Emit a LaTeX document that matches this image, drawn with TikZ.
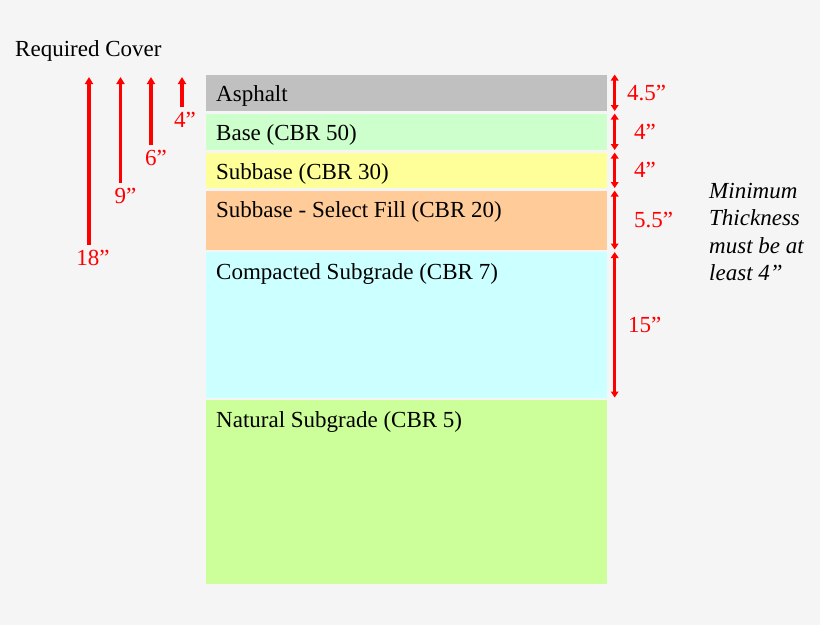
\documentclass[tikz,border=0pt]{standalone}
\usepackage{fontspec}
\setmainfont{Liberation Serif}
\usetikzlibrary{positioning,arrows.meta}
\definecolor{asphaltgray}{HTML}{C0C0C0}
\definecolor{basegreen}{HTML}{CCFFCC}
\definecolor{subbaseyellow}{HTML}{FFFF99}
\definecolor{fillorange}{HTML}{FFCC99}
\definecolor{compactedcyan}{HTML}{CCFFFF}
\definecolor{naturalgreen}{HTML}{CCFF99}
\definecolor{paper}{HTML}{F5F5F5}

\begin{document}
\begin{tikzpicture}[x=1pt,y=1pt,
    layer/.style={anchor=north west,minimum width=401pt,inner sep=0,outer sep=0},
    layertext/.style={anchor=base west,inner sep=0,font=\fontsize{23}{27}\selectfont},
    redtext/.style={text=red,inner sep=0,font=\fontsize{23}{27}\selectfont},
    cover/.style={red,line width=3.3pt,-{Triangle[length=7pt,width=8pt]}},
    dim/.style={red,line width=2.7pt,{Triangle[length=6pt,width=7.5pt]}-{Triangle[length=6pt,width=7.5pt]}}]
        \fill[paper] (0,0) rectangle (820,-625);
        \useasboundingbox (0,0) rectangle (820,-625);
        % layers
        \node[layer,fill=asphaltgray,minimum height=36.5pt] (asphalt) at (205.5,-74.5) {};
        \node[layer,fill=basegreen,minimum height=36.5pt,below=2.5pt of asphalt] (base) {};
        \node[layer,fill=subbaseyellow,minimum height=35.5pt,below=2.5pt of base] (subbase) {};
        \node[layer,fill=fillorange,minimum height=59pt,below=2.5pt of subbase] (fill) {};
        \node[layer,fill=compactedcyan,minimum height=145.5pt,below=2.5pt of fill] (compacted) {};
        \node[layer,fill=naturalgreen,minimum height=184pt,below=2.5pt of compacted] (natural) {};
        \node[layertext] (tasphalt) at ([shift={(10.5,-27)}]asphalt.north west) {Asphalt};
        \node[layertext] (tbase) at ([shift={(10.5,-27)}]base.north west) {Base (CBR 50)};
        \node[layertext] (tsubbase) at ([shift={(10.5,-27)}]subbase.north west) {Subbase (CBR 30)};
        \node[layertext] (tfill) at ([shift={(10.5,-27)}]fill.north west) {Subbase - Select Fill (CBR 20)};
        \node[layertext] (tcompacted) at ([shift={(10.5,-27)}]compacted.north west) {Compacted Subgrade (CBR 7)};
        \node[layertext] (tnatural) at ([shift={(10.5,-27)}]natural.north west) {Natural Subgrade (CBR 5)};
        % required cover
        \node[layertext] (title) at (15,-56.7) {Required Cover};
        \coordinate (c18) at (89,-245);
        \coordinate (c18top) at (89,-77);
        \coordinate (c9) at (120.5,-183);
        \coordinate (c9top) at (120.5,-77);
        \coordinate (c6) at (151,-145);
        \coordinate (c6top) at (151,-77);
        \coordinate (c4) at (182,-107);
        \coordinate (c4top) at (182,-77);
        \draw[cover] (c18) -- (c18top);
        \draw[cover] (c9) -- (c9top);
        \draw[cover] (c6) -- (c6top);
        \draw[cover] (c4) -- (c4top);
        \node[redtext,below=5pt of c18,xshift=4pt] (l18) {18”};
        \node[redtext,below=5pt of c9,xshift=5pt] (l9) {9”};
        \node[redtext,below=5pt of c6,xshift=5pt] (l6) {6”};
        \node[redtext,below=5pt of c4,xshift=3pt] (l4) {4”};
        % thicknesses
        \draw[dim] ([xshift=8.2pt]asphalt.north east) -- ([xshift=8.2pt]asphalt.south east)
            node[redtext,midway,right=11pt] (d1) {4.5”};
        \draw[dim] ([xshift=8.2pt]base.north east) -- ([xshift=8.2pt]base.south east)
            node[redtext,midway,right=18pt] (d2) {4”};
        \draw[dim] ([xshift=8.2pt]subbase.north east) -- ([xshift=8.2pt]subbase.south east)
            node[redtext,midway,right=18pt] (d3) {4”};
        \draw[dim] ([xshift=8.2pt]fill.north east) -- ([xshift=8.2pt]fill.south east)
            node[redtext,midway,right=18pt] (d4) {5.5”};
        \draw[dim] ([xshift=8.2pt]compacted.north east) -- ([xshift=8.2pt]compacted.south east)
            node[redtext,midway,right=12pt] (d5) {15”};
        \node[anchor=north west,align=left,inner sep=0,font=\itshape\fontsize{23}{27.3}\selectfont] (note) at (709,-183)
            {Minimum\\Thickness\\must be at\\least 4”};
      \end{tikzpicture}
\end{document}
